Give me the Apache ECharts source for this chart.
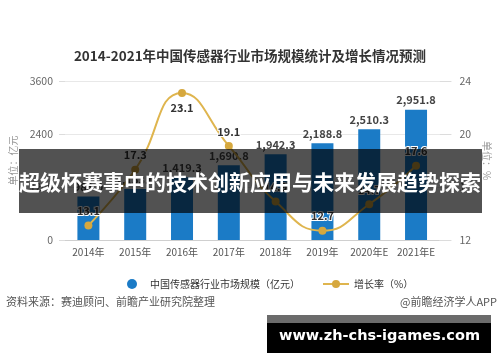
<!DOCTYPE html>
<html>
<head>
<meta charset="utf-8">
<script src="https://cdn.jsdelivr.net/npm/echarts@6/dist/echarts.min.js"></script>
<style>
html,body{margin:0;padding:0;background:#fff;}
#chart{width:500px;height:362px;}
</style>
</head>
<body>
<div id="chart"></div>
<script>
var titleText = '2014-2021年中国传感器行业市场规模统计及增长情况预测';
var categories = ['2014年','2015年','2016年','2017年','2018年','2019年','2020年E','2021年E'];
var marketSize = [983.0, 1153.0, 1419.3, 1690.8, 1942.3, 2188.8, 2510.3, 2951.8];
var growthRate = [13.1, 17.3, 23.1, 19.1, 14.9, 12.7, 14.7, 17.6];
var growthLabelPos = ['top','top','bottom','top','top','top','top','top'];
var leftTicks = {min: 0, max: 3600, interval: 1200};
var rightTicks = {min: 12, max: 24, interval: 4};
var seriesNames = ['中国传感器行业市场规模（亿元）', '增长率（%）'];
var leftAxisName = '单位：亿元';
var rightAxisName = '单位：%';
var sourceText = '资料来源：赛迪顾问、前瞻产业研究院整理';
var creditText = '@前瞻经济学人APP';
var overlayText = '超级杯赛事中的技术创新应用与未来发展趋势探索';
var siteText = 'www.zh-chs-igames.com';

var FONT = '"Noto Sans CJK SC", "Noto Sans", sans-serif';
var chart = echarts.init(document.getElementById('chart'), null, {renderer: 'canvas'});

function fmt(v){
  return v.toLocaleString('en-US', {minimumFractionDigits: 1, maximumFractionDigits: 1});
}

var option = {
  backgroundColor: '#fff',
  animation: false,
  textStyle: {fontFamily: FONT},
  title: {
    text: titleText,
    left: 'center',
    top: 44,
    textStyle: {fontSize: 13.5, fontWeight: 'bold', color: '#333', fontFamily: FONT}
  },
  legend: {
    top: 274,
    left: 122,
    itemGap: 22,
    itemWidth: 26,
    itemHeight: 10,
    textStyle: {fontSize: 10, color: '#333', fontFamily: FONT},
    data: [
      {name: seriesNames[0], icon: 'circle'},
      {name: seriesNames[1]}
    ]
  },
  grid: {left: 64, right: 52, top: 81, bottom: 122, containLabel: false},
  xAxis: {
    type: 'category',
    data: categories,
    axisLine: {lineStyle: {color: '#cfcfcf'}},
    axisTick: {show: false},
    axisLabel: {color: '#555', fontSize: 10, margin: 7, interval: 0, fontFamily: FONT}
  },
  yAxis: [
    {
      type: 'value',
      min: leftTicks.min, max: leftTicks.max, interval: leftTicks.interval,
      name: leftAxisName,
      nameLocation: 'middle',
      nameGap: 47,
      nameRotate: 90,
      nameTextStyle: {color: '#999', fontSize: 10, fontFamily: FONT},
      axisLine: {show: false},
      axisTick: {show: true, length: 6, lineStyle: {color: '#dcdcdc'}},
      axisLabel: {color: '#666', fontSize: 10.5, margin: 12, formatter: function(v){ return String(v); }},
      splitLine: {lineStyle: {color: '#e8e8e8'}}
    },
    {
      type: 'value',
      min: rightTicks.min, max: rightTicks.max, interval: rightTicks.interval,
      name: rightAxisName,
      nameLocation: 'middle',
      nameGap: 35,
      nameRotate: -90,
      nameTextStyle: {color: '#999', fontSize: 10, fontFamily: FONT},
      axisLine: {show: false},
      axisTick: {show: true, length: 12, lineStyle: {color: '#dcdcdc'}},
      axisLabel: {color: '#666', fontSize: 10.5, margin: 20, formatter: function(v){ return String(v); }},
      splitLine: {show: false}
    }
  ],
  series: [
    {
      name: seriesNames[0],
      type: 'bar',
      yAxisIndex: 0,
      barWidth: 22,
      data: marketSize,
      itemStyle: {color: '#1b7bc6'},
      label: {
        show: true,
        position: 'top',
        distance: 4,
        color: '#444',
        fontSize: 11,
        fontWeight: 'bold',
        formatter: function(p){ return fmt(p.value); }
      }
    },
    {
      name: seriesNames[1],
      type: 'line',
      yAxisIndex: 1,
      smooth: true,
      symbol: 'circle',
      symbolSize: 8,
      data: growthRate.map(function(v, i){
        return {value: v, label: {position: growthLabelPos[i]}};
      }),
      lineStyle: {color: '#dfb54e', width: 2},
      itemStyle: {color: '#d6a83e'},
      label: {
        show: true,
        distance: 5,
        color: '#333',
        fontSize: 11,
        fontWeight: 'bold',
        textBorderColor: '#fff',
        textBorderWidth: 2,
        formatter: function(p){ return p.value.toFixed(1); }
      },
      z: 5
    }
  ],
  graphic: [
    {
      type: 'text', left: 6, top: 296,
      style: {text: sourceText, fill: '#555', font: '11px ' + FONT}
    },
    {
      type: 'text', right: 3, top: 296,
      style: {text: creditText, fill: '#555', font: '11px ' + FONT}
    },
    {
      type: 'rect', left: 19, top: 149, z: 100,
      shape: {width: 463, height: 64},
      style: {fill: 'rgba(0,0,0,0.68)'}
    },
    {
      type: 'text', left: 'center', top: 172, z: 101,
      style: {text: overlayText, fill: '#fff', font: 'bold 21px ' + FONT}
    },
    {
      type: 'rect', left: 267, top: 315, z: 100,
      shape: {width: 224, height: 8},
      style: {fill: '#6b6b6b'}
    },
    {
      type: 'rect', left: 267, top: 323, z: 100,
      shape: {width: 224, height: 30},
      style: {fill: '#000'}
    },
    {
      type: 'text', left: 279, top: 329, z: 101,
      style: {text: siteText, fill: '#fff', font: 'bold 14.5px "DejaVu Sans", sans-serif'}
    }
  ]
};
chart.setOption(option);
</script>
</body>
</html>
